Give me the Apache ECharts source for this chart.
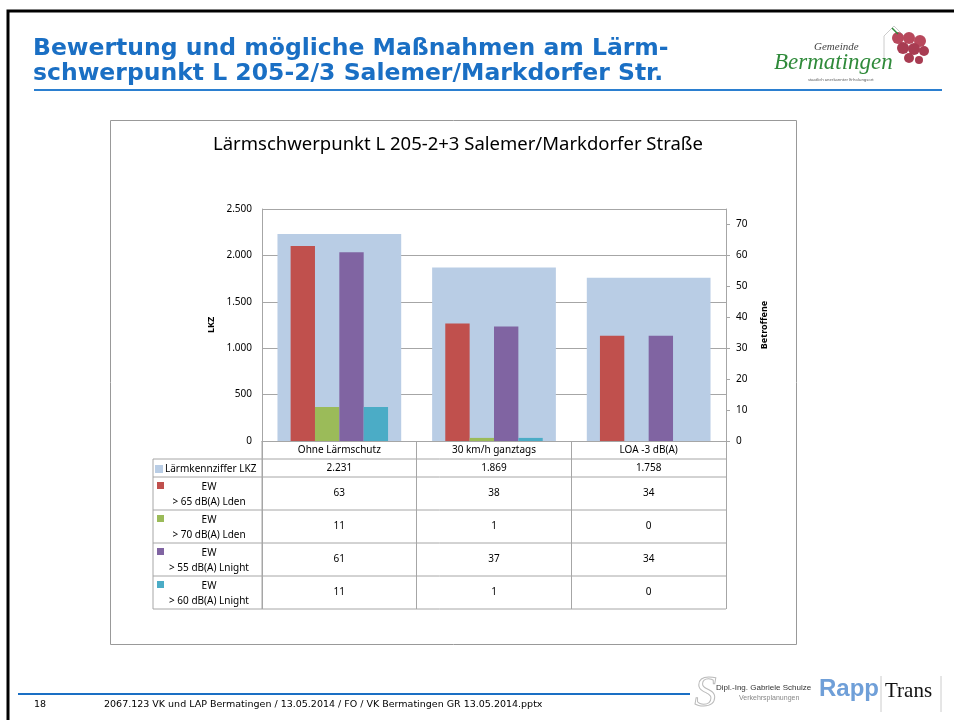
<!DOCTYPE html>
<html>
<head>
<meta charset="utf-8">
<script src="https://cdn.jsdelivr.net/npm/echarts@6/dist/echarts.min.js"></script>
<style>
  html, body { margin: 0; padding: 0; background: #fff; }
  #chart { width: 954px; height: 720px; }
</style>
</head>
<body>
<div id="chart"></div>
<script>
const categories = ['Ohne Lärmschutz', '30 km/h ganztags', 'LOA -3 dB(A)'];
const lkz = [2231, 1869, 1758];
const ew65Lden = [63, 38, 34];
const ew70Lden = [11, 1, 0];
const ew55Lnight = [61, 37, 34];
const ew60Lnight = [11, 1, 0];

const lkzName = 'Lärmkennziffer LKZ';
const ewNames = ['> 65 dB(A) Lden', '> 70 dB(A) Lden', '> 55 dB(A) Lnight', '> 60 dB(A) Lnight'];
const ewData = [ew65Lden, ew70Lden, ew55Lnight, ew60Lnight];
const ewColors = ['#C0504D', '#9BBB59', '#8064A2', '#4BACC6'];

// layout of plot + data table
const GL = 262, GR = 726, GT = 209, GB = 441;
const TL = 153;
const rowH = [18, 18, 33, 33, 33, 33];
const lineColor = '#a6a6a6';
const font = 'Noto Sans';

function de(v) {
  return String(v).replace(/\B(?=(\d{3})+(?!\d))/g, '.');
}

let chart = echarts.init(document.getElementById('chart'));

// table lines
let tableLines = [];
let y = GB;
for (let i = 0; i < rowH.length; i++) {
  y += rowH[i];
  tableLines.push({
    type: 'line', silent: true,
    shape: { x1: TL, y1: y, x2: GR, y2: y },
    style: { stroke: lineColor, lineWidth: 1 }
  });
}
tableLines.push({
  type: 'line', silent: true,
  shape: { x1: TL, y1: GB + rowH[0], x2: TL, y2: y },
  style: { stroke: lineColor, lineWidth: 1 }
});
tableLines.push({
  type: 'line', silent: true,
  shape: { x1: GL, y1: GB, x2: GL, y2: y },
  style: { stroke: lineColor, lineWidth: 1 }
});
const tableBottom = y;

// legends as row headers
let legends = [{
  data: [{ name: lkzName, icon: 'rect' }],
  left: 155, top: GB + rowH[0] + 5,
  padding: 0, itemWidth: 8, itemHeight: 8,
  selectedMode: false,
  textStyle: { fontFamily: font, fontSize: 10, color: '#000', padding: [0, 0, 0, -3] }
}];
let rowTop = GB + rowH[0] + rowH[1];
for (let i = 0; i < ewNames.length; i++) {
  legends.push({
    data: [{ name: ewNames[i], icon: 'path://M0,0h7v7h-7zM0,26' }],
    left: 157, top: rowTop + 5,
    padding: 0, itemWidth: 7, itemHeight: 26,
    selectedMode: false,
    formatter: function (name) { return '{a|EW}\n{a|' + name + '}'; },
    textStyle: {
      fontFamily: font, fontSize: 10, color: '#000',
      rich: { a: { width: 80, align: 'center', lineHeight: 15, fontFamily: font, fontSize: 10 } }
    }
  });
  rowTop += rowH[2 + i];
}

let series = [{
  name: lkzName,
  type: 'bar',
  xAxisIndex: 0,
  yAxisIndex: 0,
  barWidth: '80%',
  itemStyle: { color: '#B9CDE5' },
  data: lkz
}];
for (let i = 0; i < ewNames.length; i++) {
  series.push({
    name: ewNames[i],
    type: 'bar',
    xAxisIndex: 1,
    yAxisIndex: 1,
    barGap: 0,
    barCategoryGap: '37%',
    itemStyle: { color: ewColors[i] },
    data: ewData[i]
  });
}

const chartOptions = {
  animation: false,
  textStyle: { fontFamily: font },
  title: [{
    text: 'Lärmschwerpunkt L 205-2+3 Salemer/Markdorfer Straße',
    left: 453, top: 130, textAlign: 'center',
    textStyle: { fontFamily: font, fontSize: 18.5, fontWeight: 'normal', color: '#000' }
  }, {
    text: 'Bewertung und mögliche Maßnahmen am Lärm-\nschwerpunkt L 205-2/3 Salemer/Markdorfer Str.',
    left: 28, top: 31,
    textStyle: { fontFamily: 'DejaVu Sans', fontSize: 23.5, fontWeight: 'bold', color: '#1a6fc4', lineHeight: 25 }
  }],
  legend: legends,
  grid: { left: GL, right: 954 - GR, top: GT, bottom: 720 - GB, containLabel: false },
  xAxis: [{
    type: 'category',
    data: categories,
    position: 'bottom',
    axisLine: { show: true, lineStyle: { color: lineColor } },
    axisTick: { show: true, alignWithLabel: false, length: tableBottom - GB, lineStyle: { color: lineColor } },
    axisLabel: {
      interval: 0, margin: 0, color: '#000', fontFamily: font, fontSize: 10,
      formatter: function (value, idx) {
        let s = '{h|' + value + '}\n{k|' + de(lkz[idx]) + '}';
        for (let j = 0; j < ewData.length; j++) s += '\n{r|' + ewData[j][idx] + '}';
        return s;
      },
      rich: {
        h: { lineHeight: 18, fontFamily: font, fontSize: 10, color: '#000' },
        k: { lineHeight: 18, fontFamily: font, fontSize: 10, color: '#000' },
        r: { lineHeight: 33, fontFamily: font, fontSize: 10, color: '#000' }
      }
    }
  }, {
    type: 'category',
    data: categories,
    show: false
  }],
  yAxis: [{
    type: 'value',
    min: 0, max: 2500, interval: 500,
    name: 'LKZ', nameLocation: 'middle', nameGap: 46, nameRotate: 90,
    nameTextStyle: { fontFamily: font, fontSize: 9, fontWeight: 'bold', color: '#000' },
    axisLine: { show: true, lineStyle: { color: lineColor } },
    axisTick: { show: false },
    axisLabel: { color: '#000', fontFamily: font, fontSize: 10, margin: 10, formatter: de },
    splitLine: { show: true, lineStyle: { color: lineColor } }
  }, {
    type: 'value',
    position: 'right',
    min: 0, max: 75, interval: 10,
    name: 'Betroffene', nameLocation: 'middle', nameGap: 34, nameRotate: 90,
    nameTextStyle: { fontFamily: font, fontSize: 9, fontWeight: 'bold', color: '#000' },
    axisLine: { show: true, lineStyle: { color: lineColor } },
    axisTick: { show: true, length: 4, lineStyle: { color: lineColor } },
    axisLabel: { color: '#000', fontFamily: font, fontSize: 10, margin: 10, showMaxLabel: false },
    splitLine: { show: false }
  }],
  series: series,
  graphic: [
    // slide frame
    { type: 'polyline', silent: true, shape: { points: [[8, 720], [8, 11], [954, 11]] },
      style: { stroke: '#000', lineWidth: 3, fill: null } },
    // title underline
    { type: 'line', silent: true, shape: { x1: 34, y1: 90, x2: 942, y2: 90 },
      style: { stroke: '#2b7fd0', lineWidth: 2 } },
    // chart box
    { type: 'rect', silent: true, shape: { x: 110.5, y: 120.5, width: 686, height: 524 },
      style: { stroke: '#999', lineWidth: 1, fill: null } },
    // Bermatingen logo
    { type: 'polyline', silent: true, shape: { points: [[884, 60], [884, 36], [894, 26], [904, 36]] },
      style: { stroke: '#ccc', lineWidth: 1, fill: null } },
    { type: 'circle', silent: true, shape: { cx: 898, cy: 38, r: 6 }, style: { fill: '#b8485c' } },
    { type: 'circle', silent: true, shape: { cx: 909, cy: 38, r: 6 }, style: { fill: '#b8485c' } },
    { type: 'circle', silent: true, shape: { cx: 920, cy: 41, r: 6 }, style: { fill: '#b8485c' } },
    { type: 'circle', silent: true, shape: { cx: 903, cy: 48, r: 6 }, style: { fill: '#a83c52' } },
    { type: 'circle', silent: true, shape: { cx: 914, cy: 49, r: 6 }, style: { fill: '#a83c52' } },
    { type: 'circle', silent: true, shape: { cx: 924, cy: 51, r: 5 }, style: { fill: '#a83c52' } },
    { type: 'circle', silent: true, shape: { cx: 909, cy: 58, r: 5 }, style: { fill: '#a83c52' } },
    { type: 'circle', silent: true, shape: { cx: 919, cy: 60, r: 4 }, style: { fill: '#a83c52' } },
    { type: 'line', silent: true, shape: { x1: 892, y1: 28, x2: 898, y2: 34 }, style: { stroke: '#2f8a3a', lineWidth: 1.5 } },
    { type: 'text', silent: true, left: 814, top: 42,
      style: { text: 'Gemeinde', fontFamily: 'Liberation Serif', fontStyle: 'italic', fontSize: 11, fill: '#444' } },
    { type: 'text', silent: true, left: 774, top: 51,
      style: { text: 'Bermatingen', fontFamily: 'Liberation Serif', fontStyle: 'italic', fontSize: 23, fill: '#2f8a3a' } },
    { type: 'text', silent: true, left: 808, top: 78,
      style: { text: 'staatlich anerkannter Erholungsort', fontFamily: font, fontSize: 4, fill: '#555' } },
    // footer
    { type: 'line', silent: true, shape: { x1: 18, y1: 694, x2: 690, y2: 694 },
      style: { stroke: '#1a6fc4', lineWidth: 2 } },
    { type: 'text', silent: true, left: 34, top: 700,
      style: { text: '18', fontFamily: 'DejaVu Sans', fontSize: 9.5, fill: '#000' } },
    { type: 'text', silent: true, left: 104, top: 700,
      style: { text: '2067.123 VK und LAP Bermatingen / 13.05.2014 / FO / VK Bermatingen GR 13.05.2014.pptx',
               fontFamily: 'DejaVu Sans', fontSize: 9.5, fill: '#000' } },
    { type: 'text', silent: true, left: 694, top: 672,
      style: { text: 'S', fontFamily: 'Liberation Serif', fontStyle: 'italic', fontSize: 44, fill: null, stroke: '#bbb', lineWidth: 1 } },
    { type: 'text', silent: true, left: 716, top: 684,
      style: { text: 'Dipl.-Ing. Gabriele Schulze', fontFamily: 'Liberation Sans', fontSize: 8, fill: '#333' } },
    { type: 'text', silent: true, left: 739, top: 695,
      style: { text: 'Verkehrsplanungen', fontFamily: 'Liberation Sans', fontSize: 7, fill: '#888' } },
    { type: 'text', silent: true, left: 819, top: 677,
      style: { text: 'Rapp', fontFamily: 'Liberation Sans', fontWeight: 'bold', fontSize: 24, fill: '#6f9fd8' } },
    { type: 'line', silent: true, shape: { x1: 881, y1: 676, x2: 881, y2: 712 }, style: { stroke: '#ccc', lineWidth: 1 } },
    { type: 'text', silent: true, left: 885, top: 681,
      style: { text: 'Trans', fontFamily: 'Liberation Serif', fontSize: 21, fill: '#111' } },
    { type: 'line', silent: true, shape: { x1: 941, y1: 676, x2: 941, y2: 712 }, style: { stroke: '#ccc', lineWidth: 1 } }
  ].concat(tableLines)
};
chart.setOption(chartOptions);
</script>
</body>
</html>
